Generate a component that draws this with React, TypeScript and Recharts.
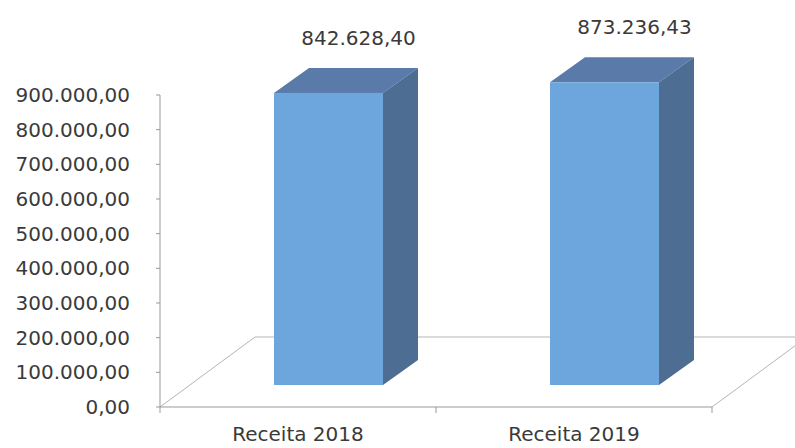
import { BarChart, Bar, XAxis, YAxis, ReferenceArea, LabelList } from 'recharts';

// dados
const categorias = ['Receita 2018', 'Receita 2019'];
const receitas = [842628.4, 873236.43];
const yTicks = [0, 100000, 200000, 300000, 400000, 500000, 600000, 700000, 800000, 900000];

const data = categorias.map((c, i) => ({ nome: c, valor: receitas[i] }));

const FONT = '"DejaVu Sans", sans-serif';
const TEXT = '#3a3a3a';

// deslocamentos do efeito 3D
const FLOOR_DX = 95;
const FLOOR_DY = -70;
const FRONT_DX = 30;
const FRONT_DY = -22;
const DEPTH_DX = 35;
const DEPTH_DY = -25;

const fmt = (v: number) => {
    const [i, d] = v.toFixed(2).split('.');
    return i.replace(/\B(?=(\d{3})+(?!\d))/g, '.') + ',' + d;
};

const Floor = (props: any) => {
    const { x, y, width, height } = props;
    const by = y + height;
    const n = categorias.length;
    const ticks = Array.from({ length: n + 1 }, (_, i) => x + (width * i) / n);
    return (
        <g>
            <path
                d={`M${x},${by} L${x + FLOOR_DX},${by + FLOOR_DY} L${x + width + FLOOR_DX},${by + FLOOR_DY} L${x + width},${by}`}
                fill="none"
                stroke="#b5b5b5"
                strokeWidth={1}
            />
            {ticks.map((tx, i) => (
                <line key={i} x1={tx} y1={by} x2={tx} y2={by + 6} stroke="#999" strokeWidth={1} />
            ))}
        </g>
    );
};

const Bar3D = (props: any) => {
    const { x, y, width, height } = props;
    const fx = x + FRONT_DX;
    const fy = y + FRONT_DY;
    return (
        <g>
            <polygon
                points={`${fx},${fy} ${fx + DEPTH_DX},${fy + DEPTH_DY} ${fx + width + DEPTH_DX},${fy + DEPTH_DY} ${fx + width},${fy}`}
                fill="#5a7aa9"
            />
            <polygon
                points={`${fx + width},${fy} ${fx + width + DEPTH_DX},${fy + DEPTH_DY} ${fx + width + DEPTH_DX},${fy + height + DEPTH_DY} ${fx + width},${fy + height}`}
                fill="#4d6d93"
            />
            <rect x={fx} y={fy} width={width} height={height} fill="#6ca6dd" />
        </g>
    );
};

const ValueLabel = (props: any) => {
    const { x, y, width, value } = props;
    return (
        <text
            x={x + width / 2 + FRONT_DX + 30}
            y={y + FRONT_DY + DEPTH_DY - 23}
            textAnchor="middle"
            fontFamily={FONT}
            fontSize={20}
            fill={TEXT}
        >
            {fmt(value)}
        </text>
    );
};

export default function App() {
    return (
        <div style={{ position: 'absolute', left: 0, top: 0 }}>
            <BarChart
                width={795}
                height={448}
                data={data}
                margin={{ top: 95, right: 83, left: 0, bottom: 0 }}
                barSize={109}
            >
                <XAxis
                    dataKey="nome"
                    height={41}
                    axisLine={{ stroke: '#999' }}
                    tickLine={false}
                    tickSize={0}
                    tickMargin={20}
                    tick={{ fontFamily: FONT, fontSize: 20, fill: TEXT }}
                />
                <YAxis
                    width={160}
                    domain={[0, 900000]}
                    ticks={yTicks}
                    interval={0}
                    tickFormatter={fmt}
                    axisLine={{ stroke: '#999' }}
                    tickLine={{ stroke: '#999' }}
                    tickSize={4}
                    tickMargin={26}
                    tick={{ fontFamily: FONT, fontSize: 20, fill: TEXT }}
                />
                <ReferenceArea y1={0} y2={900000} ifOverflow="visible" shape={(p: any) => <Floor {...p} />} />
                <Bar dataKey="valor" shape={(p: any) => <Bar3D {...p} />} isAnimationActive={false}>
                    <LabelList dataKey="valor" content={(p: any) => <ValueLabel {...p} />} />
                </Bar>
            </BarChart>
        </div>
    );
}
